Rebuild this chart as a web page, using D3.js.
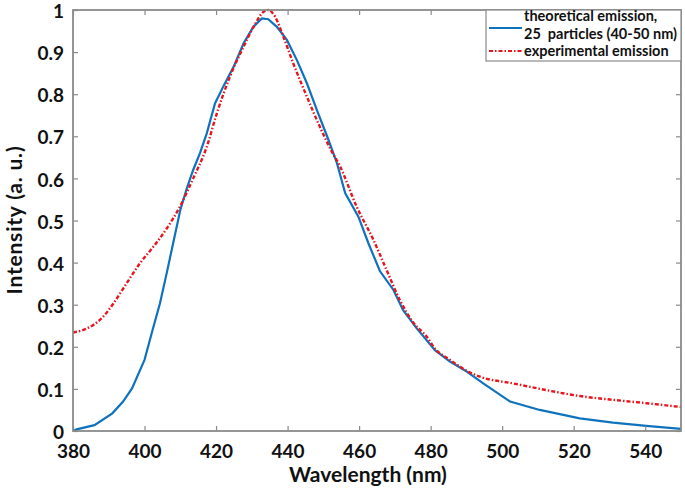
<!DOCTYPE html>
<html>
<head>
<meta charset="utf-8">
<script src="https://cdn.jsdelivr.net/npm/d3@7"></script>
<style>
  html, body { margin: 0; padding: 0; background: #fff; }
  svg text { font-family: Lato, "Open Sans", sans-serif; font-weight: bold; fill: #111; }
</style>
</head>
<body>
<script>
// theoretical emission (blue), wavelength nm
const theoX = [380, 381, 386, 391, 394, 396.5, 400, 402, 404.3, 406.2, 408, 410, 411.8, 413.6, 415.5, 417.4,
  419.7, 422, 424.9, 427.7, 430.4, 432.8, 434.6, 437, 439.8, 442.6, 445.4, 448.2, 451.5, 453.8, 456.1,
  459.8, 462.6, 465.8, 469.6, 472.3, 476, 481.2, 485.4, 490.1, 494.7, 502.2, 510.5, 521.7, 531, 540.3, 550];
const theoY = [0, 0.004, 0.014, 0.042, 0.07, 0.101, 0.169, 0.232, 0.303, 0.375, 0.446, 0.525, 0.576, 0.62, 0.66, 0.707,
  0.778, 0.818, 0.865, 0.921, 0.96, 0.98, 0.978, 0.96, 0.929, 0.881, 0.826, 0.762, 0.69, 0.636, 0.565,
  0.509, 0.446, 0.38, 0.335, 0.287, 0.245, 0.192, 0.165, 0.141, 0.113, 0.07, 0.05, 0.03, 0.02, 0.012, 0.005];

// experimental emission (red dash-dot)
const expX = [380, 382.9, 385.7, 388.5, 391.3, 395, 398.7, 402.5, 406.2, 409.9, 413.6, 417.4, 420.2, 423.9,
  427.7, 431, 433.3, 434.6, 436.5, 438.8, 441.6, 445.4, 449, 451.9, 454.7, 459.3, 464, 467.7, 471.4,
  475.1, 478.9, 481.2, 485.4, 490.1, 493.8, 503.1, 512.4, 521.7, 531, 540.3, 550];
const expY = [0.234, 0.24, 0.252, 0.272, 0.303, 0.351, 0.398, 0.438, 0.481, 0.533, 0.6, 0.675, 0.754, 0.842,
  0.913, 0.968, 0.996, 1.0, 0.984, 0.937, 0.873, 0.794, 0.723, 0.671, 0.628, 0.533, 0.454, 0.382, 0.311,
  0.258, 0.224, 0.196, 0.169, 0.143, 0.129, 0.113, 0.097, 0.083, 0.074, 0.066, 0.057];

const xTicks = [380, 400, 420, 440, 460, 480, 500, 520, 540];
const yTicks = [0, 0.1, 0.2, 0.3, 0.4, 0.5, 0.6, 0.7, 0.8, 0.9, 1];
const legendLabels = [["theoretical emission,", "25  particles (40-50 nm)"], ["experimental emission"]];

const W = 685, H = 488;
const mLeft = 73, mRight = 681, mTop = 10, mBottom = 431;
const blue = '#0f72bd', red = '#e8141c', axisColor = '#8a8a8a';

const svg = d3.select('body').append('svg').attr('width', W).attr('height', H);

const x = d3.scaleLinear().domain([380, 550]).range([mLeft, mRight]);
const y = d3.scaleLinear().domain([0, 1]).range([mBottom, mTop]);

// curves
const line = d3.line().x(d => x(d[0])).y(d => y(d[1]));
svg.append('path')
  .attr('d', line(d3.zip(theoX, theoY)))
  .attr('fill', 'none').attr('stroke', blue).attr('stroke-width', 2.2);
svg.append('path')
  .attr('d', line.curve(d3.curveMonotoneX)(d3.zip(expX, expY)))
  .attr('fill', 'none').attr('stroke', red).attr('stroke-width', 2.4)
  .attr('stroke-dasharray', '4,2,1.5,2');

// box + inward ticks
const tickLen = 5;
const axStyle = g => g.call(g => g.select('.domain').remove())
  .call(g => g.selectAll('line').attr('stroke', axisColor).attr('stroke-width', 1.2));

svg.append('g').attr('transform', `translate(0,${mBottom})`)
  .call(d3.axisBottom(x).tickValues(xTicks).tickSizeInner(-tickLen).tickSizeOuter(0).tickPadding(14))
  .call(axStyle)
  .call(g => g.selectAll('text').attr('font-size', 19).attr('fill', '#111').attr('dy', '0.71em'));
svg.append('g').attr('transform', `translate(0,${mTop})`)
  .call(d3.axisTop(x).tickValues(xTicks).tickSizeInner(-tickLen).tickSizeOuter(0).tickFormat(''))
  .call(axStyle);
svg.append('g').attr('transform', `translate(${mLeft},0)`)
  .call(d3.axisLeft(y).tickValues(yTicks).tickSizeInner(-tickLen).tickSizeOuter(0).tickPadding(9)
    .tickFormat(d => d3.format('')(+d.toFixed(1))))
  .call(axStyle)
  .call(g => g.selectAll('text').attr('font-size', 19).attr('fill', '#111').attr('dy', '0.4em'));
svg.append('g').attr('transform', `translate(${mRight},0)`)
  .call(d3.axisRight(y).tickValues(yTicks).tickSizeInner(-tickLen).tickSizeOuter(0).tickFormat(''))
  .call(axStyle);

svg.append('rect')
  .attr('x', mLeft).attr('y', mTop).attr('width', mRight - mLeft).attr('height', mBottom - mTop)
  .attr('fill', 'none').attr('stroke', axisColor).attr('stroke-width', 1.8);

// axis titles
svg.append('text').attr('x', 368).attr('y', 482)
  .attr('text-anchor', 'middle').attr('font-size', 21).text('Wavelength (nm)');
svg.append('text').attr('transform', `translate(22,220) rotate(-90)`)
  .attr('text-anchor', 'middle').attr('font-size', 21).attr('letter-spacing', 0.8).text('Intensity (a. u.)');

// legend
const lg = svg.append('g');
lg.append('rect').attr('x', 486).attr('y', mTop).attr('width', mRight - 486).attr('height', 51)
  .attr('fill', '#fff').attr('stroke', axisColor).attr('stroke-width', 1.2);
const rows = [
  { color: blue, dash: null, lines: legendLabels[0], y0: 21, ly: 28 },
  { color: red, dash: '4,2,1.5,2', lines: legendLabels[1], y0: 56, ly: 51 }
];
rows.forEach(r => {
  r.lines.forEach((t, i) => {
    lg.append('text').attr('x', 524).attr('y', r.y0 + i * 17.5).attr('font-size', 14.5)
      .style('white-space', 'pre').text(t);
  });
  lg.append('line').attr('x1', 489).attr('x2', 522).attr('y1', r.ly).attr('y2', r.ly)
    .attr('stroke', r.color).attr('stroke-width', 2.2).attr('stroke-dasharray', r.dash);
});
</script>
</body>
</html>
